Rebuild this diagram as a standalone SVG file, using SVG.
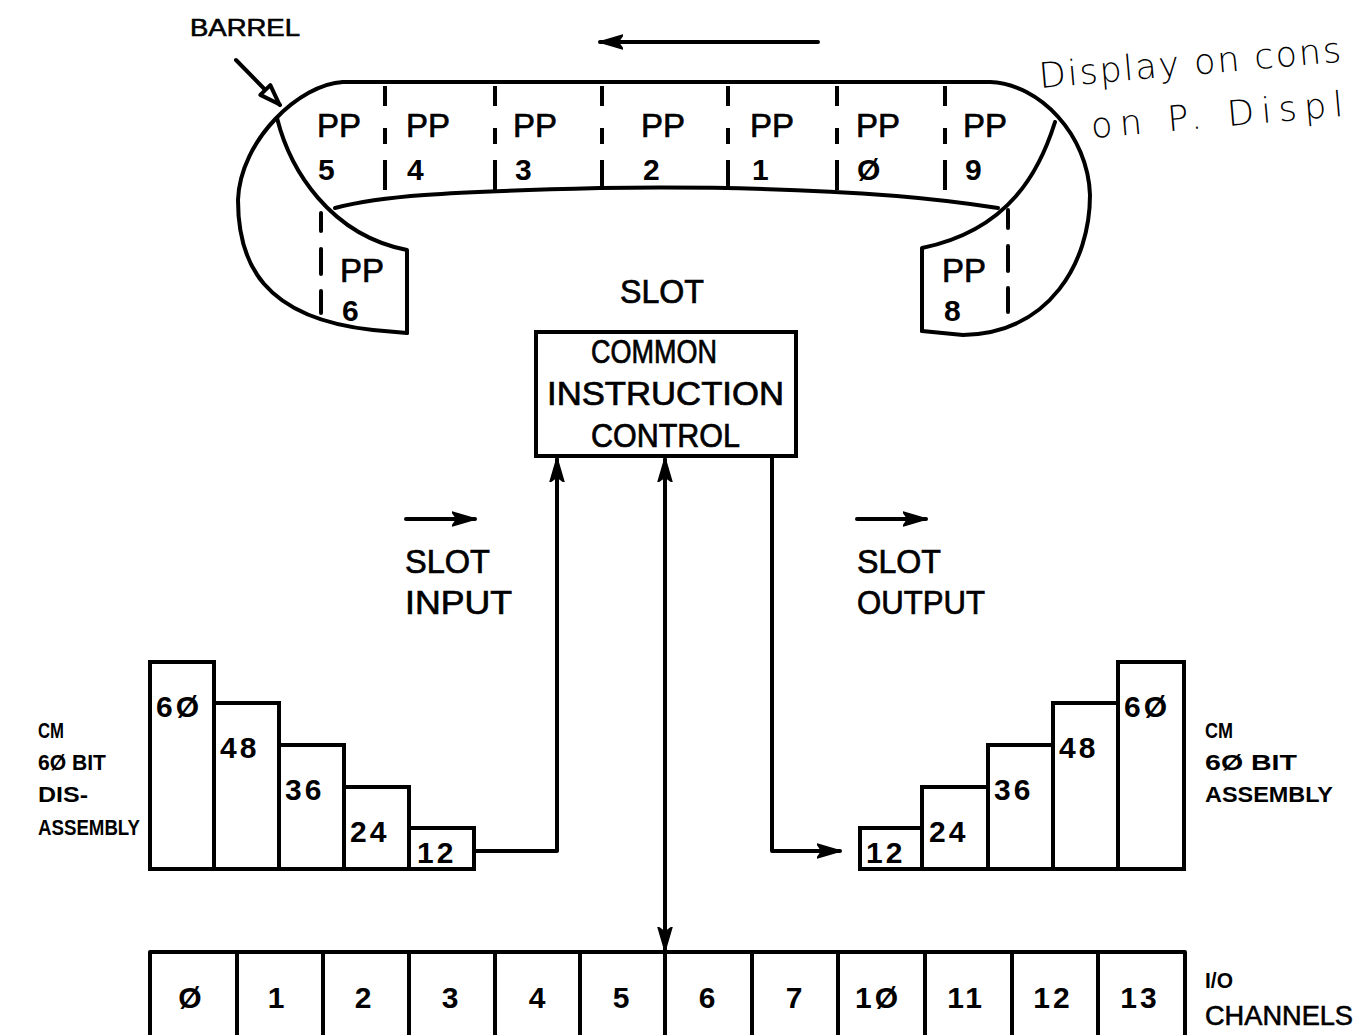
<svg xmlns="http://www.w3.org/2000/svg" width="1359" height="1035" viewBox="0 0 1359 1035">
<style>
.ln{fill:none;stroke:#000;stroke-width:4;stroke-linecap:round;stroke-linejoin:round}
.bx{fill:#fff;stroke:#000;stroke-width:4}
.dsh{fill:none;stroke:#000;stroke-width:4;stroke-dasharray:20 22 16 16 30}
.t{font-family:"Liberation Sans",Arial,sans-serif;fill:#000}
.pp{font-size:33px;stroke:#000;stroke-width:0.7}
.dg{font-size:30px;font-weight:bold}
.lbl{font-size:22px;font-weight:bold}
.hw{font-family:"DejaVu Sans","Liberation Sans",sans-serif;font-size:35px;font-weight:200;fill:#000;letter-spacing:2px}
</style>
<defs>
<marker id="ah" viewBox="0 0 24 16" refX="23" refY="8" markerWidth="24" markerHeight="16" markerUnits="userSpaceOnUse" orient="auto-start-reverse">
<path d="M0,1 L24,8 L0,15 L5,8 Z" fill="#000" stroke="#000" stroke-width="1.5" stroke-linejoin="round"/>
</marker>
<marker id="aho" viewBox="0 0 26 20" refX="24" refY="10" markerWidth="26" markerHeight="20" markerUnits="userSpaceOnUse" orient="auto">
<path d="M3,3 L23,10 L3,17 Z" fill="#fff" stroke="#000" stroke-width="4" stroke-linejoin="round"/>
</marker>
</defs>
<rect width="1359" height="1035" fill="#fff"/>

<!-- Barrel -->
<g id="barrel">
<text class="t" x="190" y="36" font-size="23" stroke="#000" stroke-width="0.6" textLength="110" lengthAdjust="spacingAndGlyphs">BARREL</text>
<line class="ln" x1="236" y1="60" x2="280" y2="105" marker-end="url(#aho)"/>
<line class="ln" x1="818" y1="42" x2="600" y2="42" marker-end="url(#ah)"/>
<path class="ln" d="M343,82 L990,82"/>
<path class="ln" d="M335,208 C380,196 440,192 600,188 C760,186 900,192 998,208"/>
<path class="ln" d="M343,82 C300,84 240,140 238,200 C238,262 262,318 373,330 L407,333"/>
<path class="ln" d="M277,118 C290,170 330,235 407,250 L407,333"/>
<path class="ln" d="M990,82 C1040,84 1088,135 1090,195 C1090,262 1050,333 963,335 L922,331"/>
<path class="ln" d="M1055,122 C1040,170 1010,230 922,248 L922,331"/>
<path class="dsh" d="M385,86 V190 M495,86 V190 M602,86 V188 M728,86 V188 M837,86 V191 M945,86 V198"/>
<path class="ln" style="stroke-dasharray:18 18 25 17 25" d="M321,213 V313"/>
<path class="ln" style="stroke-dasharray:18 18 25 17 25" d="M1008,210 V312"/>
</g>
<g id="pp5"><text class="t pp" x="317" y="137">PP</text><text class="t dg" x="318" y="180">5</text></g>
<g id="pp4"><text class="t pp" x="406" y="137">PP</text><text class="t dg" x="407" y="180">4</text></g>
<g id="pp3"><text class="t pp" x="513" y="137">PP</text><text class="t dg" x="515" y="180">3</text></g>
<g id="pp2"><text class="t pp" x="641" y="137">PP</text><text class="t dg" x="643" y="180">2</text></g>
<g id="pp1"><text class="t pp" x="750" y="137">PP</text><text class="t dg" x="752" y="180">1</text></g>
<g id="pp0"><text class="t pp" x="856" y="137">PP</text><text class="t dg" x="857" y="180">Ø</text></g>
<g id="pp9"><text class="t pp" x="963" y="137">PP</text><text class="t dg" x="965" y="180">9</text></g>
<g id="pp6"><text class="t pp" x="340" y="282">PP</text><text class="t dg" x="342" y="321">6</text></g>
<g id="pp8"><text class="t pp" x="942" y="282">PP</text><text class="t dg" x="944" y="321">8</text></g>

<!-- Common instruction control -->
<g id="cic">
<text class="t pp" x="620" y="303" textLength="84" lengthAdjust="spacingAndGlyphs">SLOT</text>
<rect class="bx" x="536" y="332" width="260" height="124"/>
<text class="t pp" x="591" y="363" textLength="126" lengthAdjust="spacingAndGlyphs">COMMON</text>
<text class="t pp" x="547" y="405" textLength="237" lengthAdjust="spacingAndGlyphs">INSTRUCTION</text>
<text class="t pp" x="591" y="447" textLength="149" lengthAdjust="spacingAndGlyphs">CONTROL</text>
</g>

<g id="slot-input">
<line class="ln" x1="406" y1="519" x2="475" y2="519" marker-end="url(#ah)"/>
<text class="t pp" x="405" y="573" textLength="85" lengthAdjust="spacingAndGlyphs">SLOT</text>
<text class="t pp" x="405" y="614" textLength="107" lengthAdjust="spacingAndGlyphs">INPUT</text>
</g>
<g id="slot-output">
<line class="ln" x1="857" y1="519" x2="926" y2="519" marker-end="url(#ah)"/>
<text class="t pp" x="857" y="573" textLength="84" lengthAdjust="spacingAndGlyphs">SLOT</text>
<text class="t pp" x="857" y="614" textLength="128" lengthAdjust="spacingAndGlyphs">OUTPUT</text>
</g>

<!-- Left disassembly stairs -->
<g id="disassembly">
<rect class="bx" x="150" y="662" width="64" height="207"/>
<rect class="bx" x="214" y="703" width="65" height="166"/>
<rect class="bx" x="279" y="745" width="65" height="124"/>
<rect class="bx" x="344" y="787" width="65" height="82"/>
<rect class="bx" x="409" y="828" width="65" height="41"/>
<text class="t dg" x="156" y="717" letter-spacing="3">6Ø</text>
<text class="t dg" x="220" y="758" letter-spacing="3">48</text>
<text class="t dg" x="285" y="800" letter-spacing="3">36</text>
<text class="t dg" x="350" y="842" letter-spacing="3">24</text>
<text class="t dg" x="417" y="863" letter-spacing="3">12</text>
<text class="t lbl" x="38" y="738" textLength="26" lengthAdjust="spacingAndGlyphs">CM</text>
<text class="t lbl" x="38" y="770" textLength="68" lengthAdjust="spacingAndGlyphs">6Ø BIT</text>
<text class="t lbl" x="38" y="802" textLength="50" lengthAdjust="spacingAndGlyphs">DIS-</text>
<text class="t lbl" x="38" y="835" textLength="102" lengthAdjust="spacingAndGlyphs">ASSEMBLY</text>
</g>

<!-- Right assembly stairs -->
<g id="assembly">
<rect class="bx" x="860" y="828" width="62" height="41"/>
<rect class="bx" x="922" y="787" width="66" height="82"/>
<rect class="bx" x="988" y="745" width="65" height="124"/>
<rect class="bx" x="1053" y="703" width="65" height="166"/>
<rect class="bx" x="1118" y="662" width="66" height="207"/>
<text class="t dg" x="866" y="863" letter-spacing="3">12</text>
<text class="t dg" x="929" y="842" letter-spacing="3">24</text>
<text class="t dg" x="994" y="800" letter-spacing="3">36</text>
<text class="t dg" x="1059" y="758" letter-spacing="3">48</text>
<text class="t dg" x="1124" y="717" letter-spacing="3">6Ø</text>
<text class="t lbl" x="1205" y="738" textLength="28" lengthAdjust="spacingAndGlyphs">CM</text>
<text class="t lbl" x="1205" y="770" textLength="92" lengthAdjust="spacingAndGlyphs">6Ø BIT</text>
<text class="t lbl" x="1205" y="802" textLength="128" lengthAdjust="spacingAndGlyphs">ASSEMBLY</text>
</g>

<!-- I/O channels -->
<g id="io-channels">
<path class="ln" d="M150,1040 V952 H1185 V1040 M237,952 V1040 M323,952 V1040 M409,952 V1040 M495,952 V1040 M580,952 V1040 M665,952 V1040 M752,952 V1040 M838,952 V1040 M925,952 V1040 M1012,952 V1040 M1098,952 V1040"/>
<g class="t dg" text-anchor="middle" font-size="28">
<text x="190" y="1008">Ø</text>
<text x="276" y="1008">1</text>
<text x="363" y="1008">2</text>
<text x="450" y="1008">3</text>
<text x="537" y="1008">4</text>
<text x="621" y="1008">5</text>
<text x="707" y="1008">6</text>
<text x="794" y="1008">7</text>
<text x="878" y="1008" letter-spacing="3">1Ø</text>
<text x="966" y="1008" letter-spacing="3">11</text>
<text x="1053" y="1008" letter-spacing="3">12</text>
<text x="1140" y="1008" letter-spacing="3">13</text>
</g>
<text class="t lbl" x="1205" y="988" textLength="28" lengthAdjust="spacingAndGlyphs">I/O</text>
<text class="t" x="1205" y="1025" font-size="27" stroke="#000" stroke-width="0.6" textLength="148" lengthAdjust="spacingAndGlyphs">CHANNELS</text>
</g>

<!-- Connectors -->
<g id="connectors">
<path class="ln" d="M474,851 H557 V459" marker-end="url(#ah)"/>
<path class="ln" d="M665,459 V950" marker-start="url(#ah)" marker-end="url(#ah)"/>
<path class="ln" d="M772,456 V851 H840" marker-end="url(#ah)"/>
</g>

<!-- Handwritten note -->
<g id="note">
<text class="hw" x="1040" y="88" transform="rotate(-5 1040 88)" textLength="305" lengthAdjust="spacingAndGlyphs">Display on cons</text>
<text class="hw" x="1092" y="138" transform="rotate(-5 1092 138)" textLength="255" lengthAdjust="spacing">on P. Displ</text>
</g>
</svg>
